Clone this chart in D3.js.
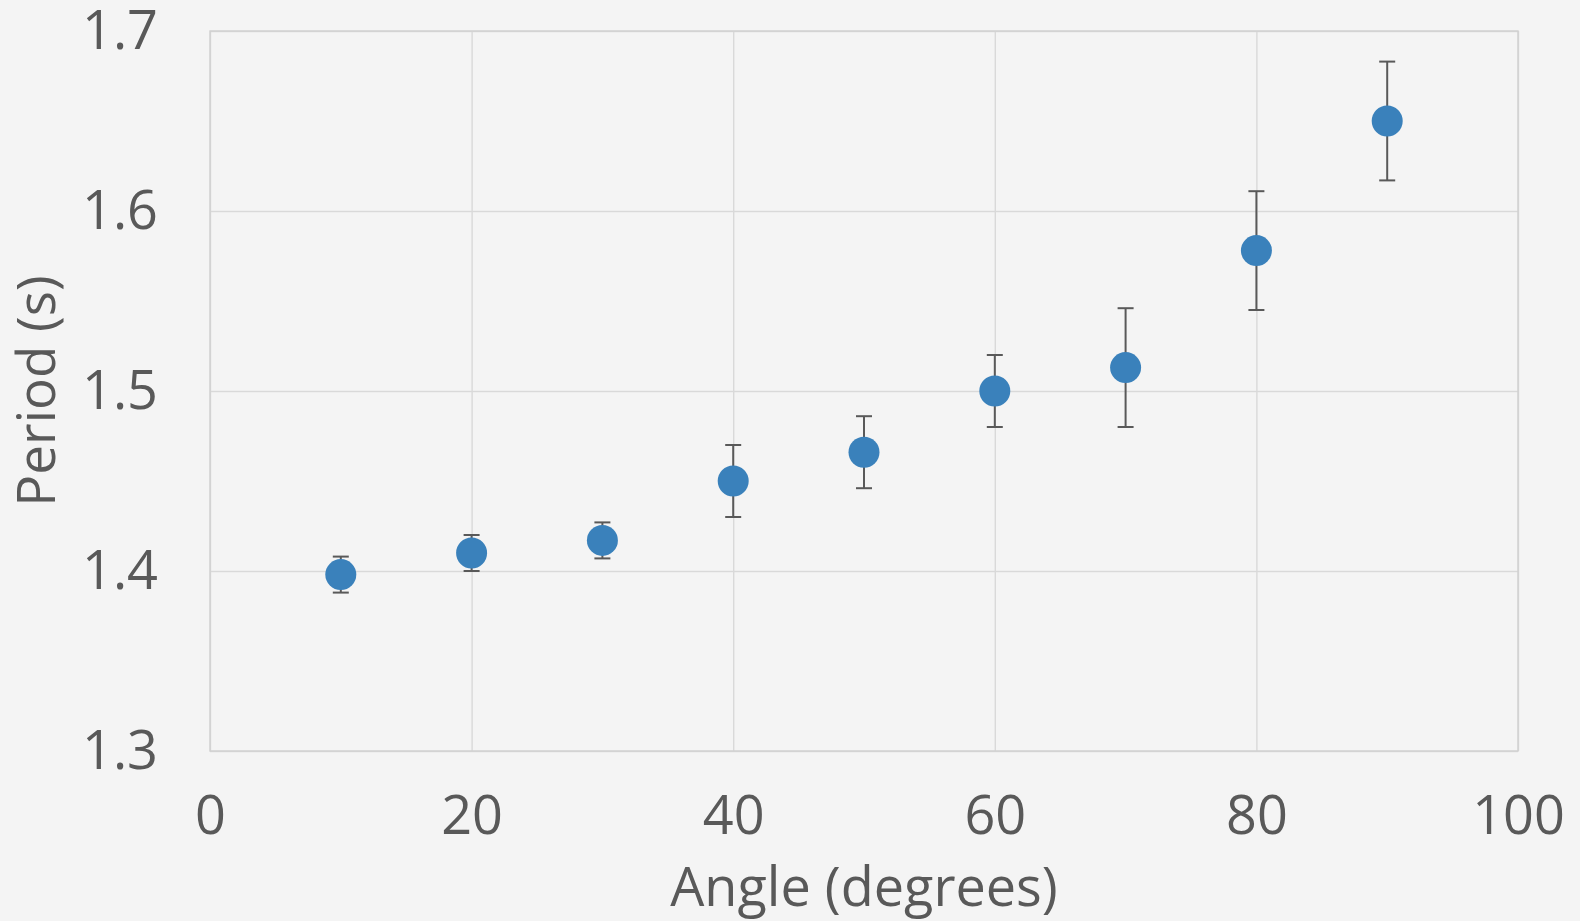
<!DOCTYPE html>
<html>
<head>
<meta charset="utf-8">
<script src="https://cdn.jsdelivr.net/npm/d3@7"></script>
<style>
  html, body { margin: 0; padding: 0; background: #f4f4f4; }
  svg { display: block; font-family: "Open Sans", sans-serif; }
  .tick text { fill: #595959; }
</style>
</head>
<body>
<svg width="1580" height="921"></svg>
<script>
// angle in degrees, measured period and its error
const angles = [10, 20, 30, 40, 50, 60, 70, 80, 90];
const periods = [1.398, 1.410, 1.417, 1.450, 1.466, 1.500, 1.513, 1.578, 1.650];
const errors = [0.010, 0.010, 0.010, 0.020, 0.020, 0.020, 0.033, 0.033, 0.033];
const xTicks = [0, 20, 40, 60, 80, 100];
const yTicks = [1.3, 1.4, 1.5, 1.6, 1.7];

const svg = d3.select('svg');
const margin = {top: 31, left: 210, right: 62, bottom: 170};
const width = 1580 - margin.left - margin.right;
const height = 921 - margin.top - margin.bottom;

const x = d3.scaleLinear().domain([0, 100]).range([0, width]);
const y = d3.scaleLinear().domain([1.3, 1.7]).range([height, 0]);

const g = svg.append('g')
    .attr('transform', `translate(${margin.left},${margin.top})`);

// grid
g.append('g')
    .attr('transform', `translate(0,${height})`)
    .call(d3.axisBottom(x).tickValues(xTicks).tickSize(-height).tickFormat(''))
    .call(a => a.select('.domain').remove())
    .selectAll('line').attr('stroke', '#d9d9d9').attr('stroke-width', 1.4);

g.append('g')
    .call(d3.axisLeft(y).tickValues(yTicks).tickSize(-width).tickFormat(''))
    .call(a => a.select('.domain').remove())
    .selectAll('line').attr('stroke', '#d9d9d9').attr('stroke-width', 1.4);

// plot border
g.append('rect')
    .attr('width', width)
    .attr('height', height)
    .attr('fill', 'none')
    .attr('stroke', '#d0d0d0')
    .attr('stroke-width', 1.4);

// tick labels
g.append('g')
    .attr('transform', `translate(0,${height})`)
    .call(d3.axisBottom(x).tickValues(xTicks).tickSize(0).tickPadding(45))
    .call(a => a.select('.domain').remove())
    .selectAll('text').attr('font-size', 54).attr('font-family', '"Open Sans", sans-serif');

g.append('g')
    .call(d3.axisLeft(y).tickValues(yTicks).tickSize(0).tickPadding(52).tickFormat(d3.format('.1f')))
    .call(a => a.select('.domain').remove())
    .selectAll('text').attr('font-size', 54).attr('font-family', '"Open Sans", sans-serif');

// error bars
const data = angles.map((a, i) => ({a: a, p: periods[i], e: errors[i]}));
const bars = g.append('g').attr('stroke', '#595959').attr('stroke-width', 2);

bars.selectAll('.stem')
    .data(data)
    .enter()
    .append('line')
    .attr('x1', d => x(d.a))
    .attr('x2', d => x(d.a))
    .attr('y1', d => y(d.p - d.e))
    .attr('y2', d => y(d.p + d.e));

bars.selectAll('.cap')
    .data(data.flatMap(d => [{a: d.a, v: d.p - d.e}, {a: d.a, v: d.p + d.e}]))
    .enter()
    .append('line')
    .attr('x1', d => x(d.a) - 8)
    .attr('x2', d => x(d.a) + 8)
    .attr('y1', d => y(d.v))
    .attr('y2', d => y(d.v));

// points
g.append('g')
    .selectAll('circle')
    .data(data)
    .enter()
    .append('circle')
    .attr('cx', d => x(d.a))
    .attr('cy', d => y(d.p))
    .attr('r', 15.5)
    .attr('fill', '#3a81bb');

// axis titles
svg.append('text')
    .attr('x', margin.left + width / 2)
    .attr('y', 906)
    .attr('text-anchor', 'middle')
    .attr('font-size', 54)
    .attr('fill', '#595959')
    .text('Angle (degrees)');

svg.append('text')
    .attr('transform', `translate(55,${margin.top + height / 2}) rotate(-90)`)
    .attr('text-anchor', 'middle')
    .attr('font-size', 53)
    .attr('fill', '#595959')
    .text('Period (s)');
</script>
</body>
</html>
